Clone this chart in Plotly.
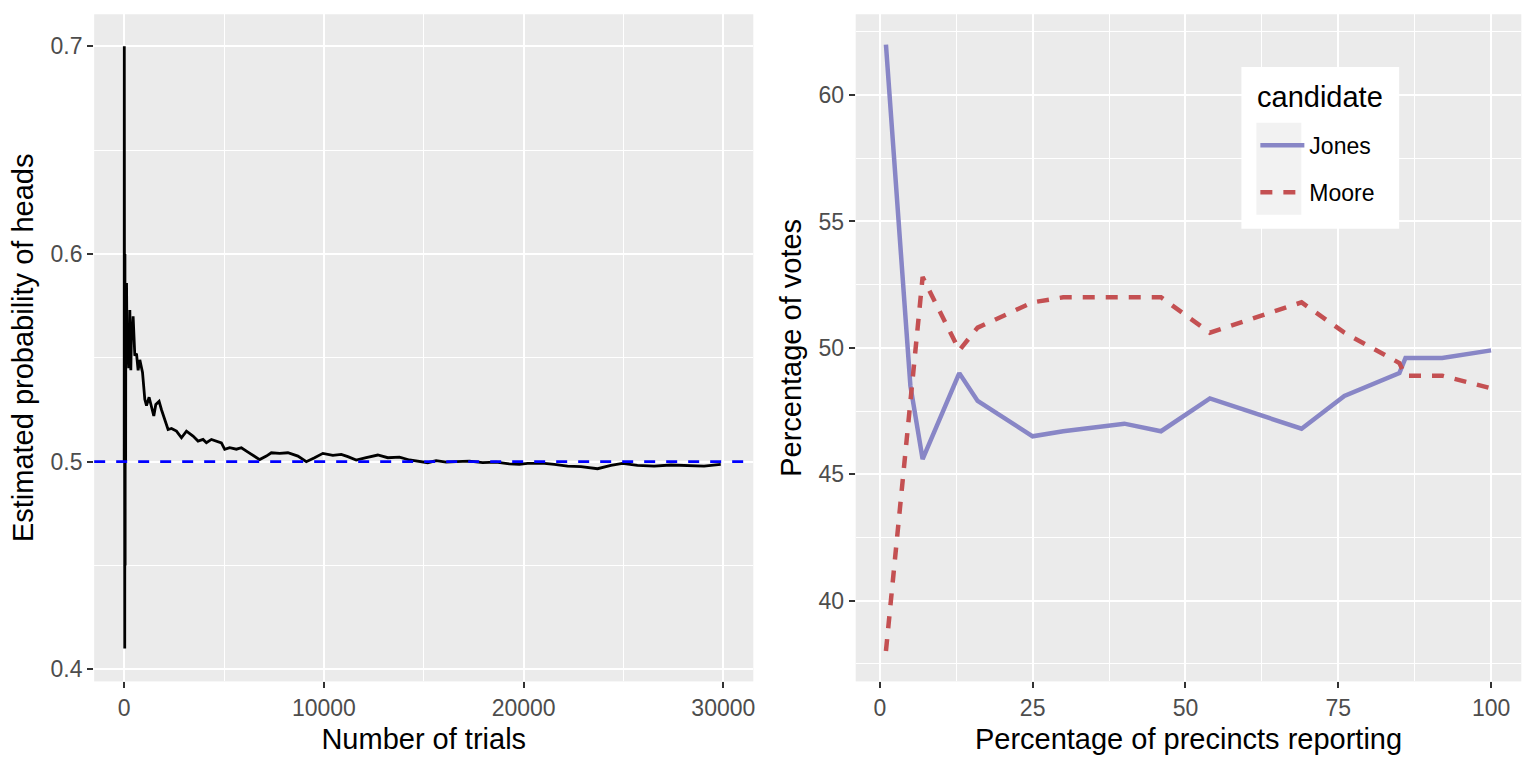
import plotly.graph_objects as go

# ---------------- Left panel data: running estimate of P(heads) ----------------
trials = [4, 8, 10, 13, 15, 18, 22, 26, 30, 35, 40, 45, 50, 55, 60, 68, 75, 82, 90, 100, 110, 120,
          135, 150, 175, 200, 225, 250, 285, 310, 335, 370, 400, 450,
          535, 620, 700, 785, 920, 1035, 1120, 1250, 1370, 1485, 1585, 1750, 1870, 2035,
          2200, 2370, 2620, 2870, 3120, 3450, 3700, 3950, 4120, 4370, 4620, 4870, 5035,
          5285, 5620, 5870, 6200, 6535, 6785, 7120, 7370, 7785, 8200, 8700, 9120, 9535,
          9950, 10450, 10870, 11200, 11620, 12120, 12700, 13200, 13785, 14285, 14785,
          15200, 15620, 16120, 16620, 17285, 17950, 18620, 19285, 19785, 20200, 21035,
          21535, 22200, 22870, 23700, 24370, 24950, 25700, 26535, 27370, 28200, 29035, 29870]
prop_heads = [0.50, 0.70, 0.55, 0.68, 0.47, 0.66, 0.60, 0.46, 0.41, 0.52, 0.60, 0.48, 0.45, 0.58,
              0.57, 0.49, 0.50, 0.57, 0.56, 0.545, 0.575, 0.586, 0.56, 0.55, 0.565, 0.557,
              0.548, 0.545, 0.573, 0.555, 0.544, 0.565, 0.56, 0.570, 0.551, 0.552, 0.544, 0.549,
              0.543, 0.530, 0.527, 0.531, 0.527, 0.522, 0.5275, 0.529, 0.525, 0.520, 0.5155,
              0.516, 0.5147, 0.5115, 0.5147, 0.5123, 0.5099, 0.5107, 0.5091, 0.5107, 0.5099,
              0.509, 0.5059, 0.5067, 0.506, 0.5067, 0.5046, 0.5027, 0.501, 0.5027, 0.5043,
              0.504, 0.5043, 0.5027, 0.500, 0.5019, 0.504, 0.503, 0.5035, 0.5024, 0.5008,
              0.5019, 0.5032, 0.5019, 0.5022, 0.5008, 0.500, 0.4995, 0.5005, 0.4998, 0.500,
              0.5003, 0.4995, 0.4998, 0.4989, 0.4987, 0.4992, 0.4992, 0.4987, 0.4979, 0.4976,
              0.4966, 0.4982, 0.4992, 0.4982, 0.4979, 0.4984, 0.4982, 0.4979, 0.4987]
true_prob = 0.5

# ---------------- Right panel data: election returns ----------------
precincts = [1, 5, 7, 13, 16, 25, 30, 40, 46, 54, 69, 76, 85, 86, 92, 100]
jones = [62.0, 48.5, 45.6, 49.0, 47.9, 46.5, 46.7, 47.0, 46.7, 48.0, 46.8, 48.1, 49.0, 49.6, 49.6, 49.9]
moore = [38.0, 48.0, 52.8, 49.9, 50.8, 51.8, 52.0, 52.0, 52.0, 50.6, 51.8, 50.6, 49.4, 48.9, 48.9, 48.4]

left_xticks = [0, 10000, 20000, 30000]
left_yticks = [0.4, 0.5, 0.6, 0.7]
right_xticks = [0, 25, 50, 75, 100]
right_yticks = [40, 45, 50, 55, 60]

W, H = 1536, 768
FONT = "Liberation Sans, Arial, Helvetica, sans-serif"
TICK_FONT = dict(family=FONT, size=23, color="#4D4D4D")
TITLE_FONT = dict(family=FONT, size=29, color="black")
BLUE = "#8886C6"
RED = "#C45052"

fig = go.Figure()
fig.add_trace(go.Scatter(x=trials, y=prop_heads, mode="lines",
                         line=dict(color="black", width=2.8),
                         xaxis="x", yaxis="y", showlegend=False, hoverinfo="skip"))
fig.add_trace(go.Scatter(x=precincts, y=jones, mode="lines", name="Jones",
                         line=dict(color=BLUE, width=4.5),
                         xaxis="x2", yaxis="y2", legendgroup="a"))
fig.add_trace(go.Scatter(x=precincts, y=moore, mode="lines", name="Moore",
                         line=dict(color=RED, width=4.5, dash="12px,11px"),
                         xaxis="x2", yaxis="y2", legendgroup="b"))

# reference line at 0.5
fig.add_shape(type="line", xref="x domain", yref="y", x0=0, x1=1, y0=true_prob, y1=true_prob,
              line=dict(color="blue", width=2.6, dash="11px,11px"), layer="above")

# legend background boxes (ggplot style)
fig.add_shape(type="rect", xref="paper", yref="paper",
              x0=1243 / W, x1=1401 / W, y0=1 - 229 / H, y1=1 - 67 / H,
              fillcolor="white", line=dict(width=0), layer="above")
fig.add_shape(type="rect", xref="paper", yref="paper",
              x0=1258 / W, x1=1303 / W, y0=1 - 215 / H, y1=1 - 123 / H,
              fillcolor="#F2F2F2", line=dict(width=0), layer="above")
fig.add_annotation(text="candidate", xref="paper", yref="paper", x=1257 / W, y=1 - 97 / H,
                   xanchor="left", yanchor="middle", showarrow=False, font=TITLE_FONT)

ydom = [1 - 682.3 / H, 1 - 14.3 / H]


def axis_common():
    return dict(showgrid=True, gridcolor="white", gridwidth=2.3, zeroline=False,
                ticks="outside", ticklen=6, tickwidth=2, tickcolor="#333333",
                tickfont=TICK_FONT, showline=False)


fig.update_layout(
    width=W, height=H,
    margin=dict(l=0, r=0, t=0, b=0),
    paper_bgcolor="white", plot_bgcolor="#EBEBEB",
    xaxis=dict(domain=[94.3 / W, 754.3 / W], range=[-1500, 31500], anchor="y",
               tickvals=left_xticks, ticktext=[str(v) for v in left_xticks],
               minor=dict(tickvals=[5000, 15000, 25000], showgrid=True, gridcolor="white", gridwidth=1.2),
               title=dict(text="Number of trials", font=TITLE_FONT, standoff=8),
               **axis_common()),
    yaxis=dict(domain=ydom, range=[0.3942, 0.7154], anchor="x",
               tickvals=left_yticks, ticktext=[f"{v:.1f}" for v in left_yticks],
               minor=dict(tickvals=[0.45, 0.55, 0.65], showgrid=True, gridcolor="white", gridwidth=1.2),
               title=dict(text="Estimated probability of heads", font=TITLE_FONT, standoff=8),
               **axis_common()),
    xaxis2=dict(domain=[856.8 / W, 1523.3 / W], range=[-3.95, 104.95], anchor="y2",
                tickvals=right_xticks, ticktext=[str(v) for v in right_xticks],
                minor=dict(tickvals=[12.5, 37.5, 62.5, 87.5], showgrid=True, gridcolor="white", gridwidth=1.2),
                title=dict(text="Percentage of precincts reporting", font=TITLE_FONT, standoff=8),
                **axis_common()),
    yaxis2=dict(domain=ydom, range=[36.8, 63.2], anchor="x2",
                tickvals=right_yticks, ticktext=[str(v) for v in right_yticks],
                minor=dict(tickvals=[37.5, 42.5, 47.5, 52.5, 57.5, 62.5], showgrid=True,
                           gridcolor="white", gridwidth=1.2),
                title=dict(text="Percentage of votes", font=TITLE_FONT, standoff=8),
                **axis_common()),
    legend=dict(x=1257 / W, y=1 - 124 / H, xanchor="left", yanchor="top",
                bgcolor="rgba(0,0,0,0)", borderwidth=0,
                font=dict(family=FONT, size=23, color="black"),
                itemwidth=44,
                traceorder="grouped", tracegroupgap=14),
    showlegend=True,
)

fig.write_html("out.html")
